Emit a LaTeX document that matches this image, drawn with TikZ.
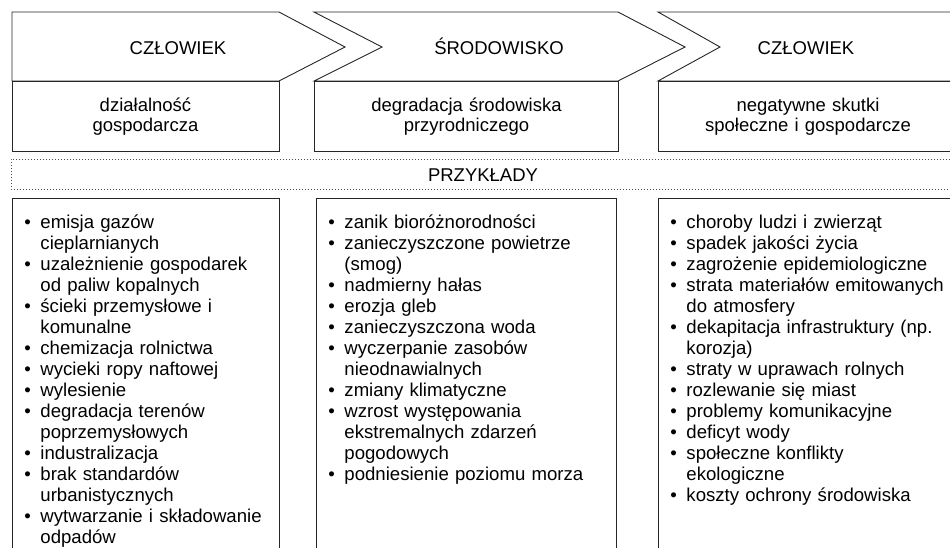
\documentclass[tikz,border=0pt]{standalone}
\usepackage{fontspec}
\setmainfont{Liberation Sans}
\usetikzlibrary{positioning}

\newcommand{\pkt}[1]{\noindent\hyphenpenalty=10000\baselineskip=21pt\lineskiplimit=-20pt%
	\hangindent=16pt\hangafter=1\makebox[16pt][l]{•}#1\par}

\begin{document}
\begin{tikzpicture}[x=1pt,y=-1pt,line width=0.9pt,draw=black!85,
	txt/.style={font=\fontsize{18.5}{20}\selectfont,inner sep=0pt,text width=300pt,align=center,anchor=base},
	lista/.style={font=\fontsize{18.6}{21}\selectfont,inner sep=0pt,text width=320pt,align=left,anchor=base west},
	kropki/.style={line width=0.9pt,dash pattern=on 0.9pt off 2.1pt,black!70}]
	\useasboundingbox (0,0) rectangle (950,547);
	% strzalki
	\draw (12,12) -- (279,12) -- (345,47) -- (279,81) -- (12,81) -- cycle;
	\draw (314,12) -- (618,12) -- (685,47) -- (618,81) -- (314,81) -- (382,47) -- cycle;
	\draw (965,12) -- (658,12) -- (720,47) -- (658,81) -- (965,81);
	\node[txt] (czl1) at (178,54) {CZŁOWIEK};
	\node[txt] (srod) at (499,54) {ŚRODOWISKO};
	\node[txt] (czl2) at (806,54) {CZŁOWIEK};
	% ramki
	\draw (12,81) rectangle (279,151);
	\draw (314,81) rectangle (618,151);
	\draw (965,81) -- (658,81) -- (658,151) -- (965,151);
	\node[txt] (dzial) at (145.5,111) {działalność\\gospodarcza};
	\node[txt] (degr) at (466.5,111) {degradacja środowiska\\przyrodniczego};
	\node[txt] (skutki) at (808,111) {negatywne skutki\\społeczne i gospodarcze};
	% przyklady
	\draw[kropki] (965,159) -- (11,159) -- (11,189) -- (965,189);
	\node[txt] (przyk) at (483,181) {PRZYKŁADY};
	\draw (12,560) -- (12,198) -- (279,198) -- (279,560);
	\draw (316,560) -- (316,198) -- (616,198) -- (616,560);
	\draw (658,560) -- (658,198) -- (965,198);
	\node[lista] (listaA) at (24,228) {%
		\pkt{emisja gazów\newline cieplarnianych}
		\pkt{uzależnienie gospodarek\newline od paliw kopalnych}
		\pkt{ścieki przemysłowe i\newline komunalne}
		\pkt{chemizacja rolnictwa}
		\pkt{wycieki ropy naftowej}
		\pkt{wylesienie}
		\pkt{degradacja terenów\newline poprzemysłowych}
		\pkt{industralizacja}
		\pkt{brak standardów\newline urbanistycznych}
		\pkt{wytwarzanie i składowanie\newline odpadów}};
	\node[lista] (listaB) at (328,228) {%
		\pkt{zanik bioróżnorodności}
		\pkt{zanieczyszczone powietrze\newline (smog)}
		\pkt{nadmierny hałas}
		\pkt{erozja gleb}
		\pkt{zanieczyszczona woda}
		\pkt{wyczerpanie zasobów\newline nieodnawialnych}
		\pkt{zmiany klimatyczne}
		\pkt{wzrost występowania\newline ekstremalnych zdarzeń\newline pogodowych}
		\pkt{podniesienie poziomu morza}};
	\node[lista] (listaC) at (670,228) {%
		\pkt{choroby ludzi i zwierząt}
		\pkt{spadek jakości życia}
		\pkt{zagrożenie epidemiologiczne}
		\pkt{strata materiałów emitowanych\newline do atmosfery}
		\pkt{dekapitacja infrastruktury (np.\newline korozja)}
		\pkt{straty w uprawach rolnych}
		\pkt{rozlewanie się miast}
		\pkt{problemy komunikacyjne}
		\pkt{deficyt wody}
		\pkt{społeczne konflikty\newline ekologiczne}
		\pkt{koszty ochrony środowiska}};
\end{tikzpicture}
\end{document}
